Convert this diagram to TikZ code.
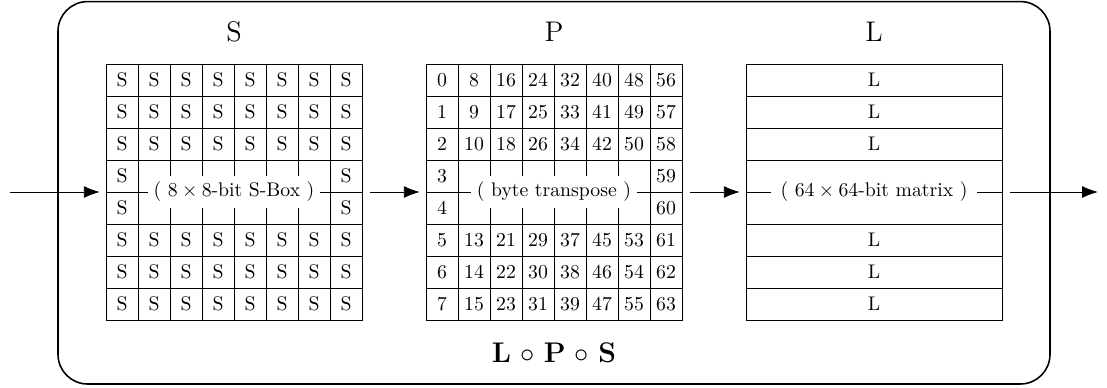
\documentclass[tikz,border=0pt]{standalone}
\usepackage{amsmath}
\usepackage{tikz}
\usetikzlibrary{arrows.meta}
\usepackage{xcolor}

\begin{document}
\begin{tikzpicture}[x=0.57cm,y=0.57cm,
    blk/.style={draw, minimum width=4.56cm, minimum height=4.56cm, inner sep=0pt},
    mid/.style={fill=white, inner xsep=3pt, inner ysep=0pt, minimum height=0.57cm},
    arr/.style={-{Latex[length=8pt,width=6pt]}, shorten >=3pt}]
    \useasboundingbox (0,0) rectangle (34.594,-12.094);
    % Moldura
    \draw[thick, rounded corners=15pt] (1.8125,-0.05) rectangle (32.8125,-12.0);
    % Blocos
    \node[blk] (Sb) at (7.3125,-6) {};
    \node[blk] (Pb) at (17.3125,-6) {};
    \node[blk] (Lb) at (27.3125,-6) {};
    \node[font=\Large] (St) at (7.3125,-1) {S};
    \node[font=\Large] (Pt) at (17.3125,-1) {P};
    \node[font=\Large] (Lt) at (27.3125,-1) {L};
    % Linhas
    \foreach \x in {3.3125,13.3125,23.3125}
        \foreach \j in {1,...,7}
            \draw (\x,-2-\j) -- ++(8,0);
    \foreach \x in {3.3125,13.3125}
        \foreach \i in {1,...,7}
            \draw (\x+\i,-2) -- ++(0,-8);
    % S
    \foreach \c in {0,...,7}
        \foreach \r in {0,1,2,5,6,7}
            \node (s-\r-\c) at (3.8125+\c,-2.5-\r) {S};
    \foreach \c in {0,7}
        \foreach \r in {3,4}
            \node (s-\r-\c) at (3.8125+\c,-2.5-\r) {S};
    \node[mid] (Sm) at (Sb) {( $8 \times 8$-bit S-Box )};
    % P
    \foreach \c in {0,...,7}
        \foreach \r in {0,1,2,5,6,7} {
            \pgfmathtruncatemacro\n{\r+8*\c}
            \node (p-\r-\c) at (13.8125+\c,-2.5-\r) {\n};
        }
    \foreach \c in {0,7}
        \foreach \r in {3,4} {
            \pgfmathtruncatemacro\n{\r+8*\c}
            \node (p-\r-\c) at (13.8125+\c,-2.5-\r) {\n};
        }
    \node[mid] (Pm) at (Pb) {( byte transpose )};
    % L
    \foreach \r in {0,1,2,5,6,7}
        \node (l-\r) at (27.3125,-2.5-\r) {L};
    \node[mid, inner xsep=5pt] (Lm) at (Lb) {( $64 \times 64$-bit matrix )};
    % Setas
    \coordinate (in) at (0.31,-6);
    \coordinate (out) at (34.31,-6);
    \draw[arr] (in) -- (Sb.west);
    \draw[arr, shorten <=4pt] (Sb.east) -- (Pb.west);
    \draw[arr, shorten <=4pt] (Pb.east) -- (Lb.west);
    \draw[arr, shorten <=4pt, shorten >=0pt] (Lb.east) -- (out);
    % Composicao
    \node[font=\Large] (comp) at (17.3125,-11.03) {\textbf{L} $\circ$ \textbf{P} $\circ$ \textbf{S}};
\end{tikzpicture}
\end{document}
